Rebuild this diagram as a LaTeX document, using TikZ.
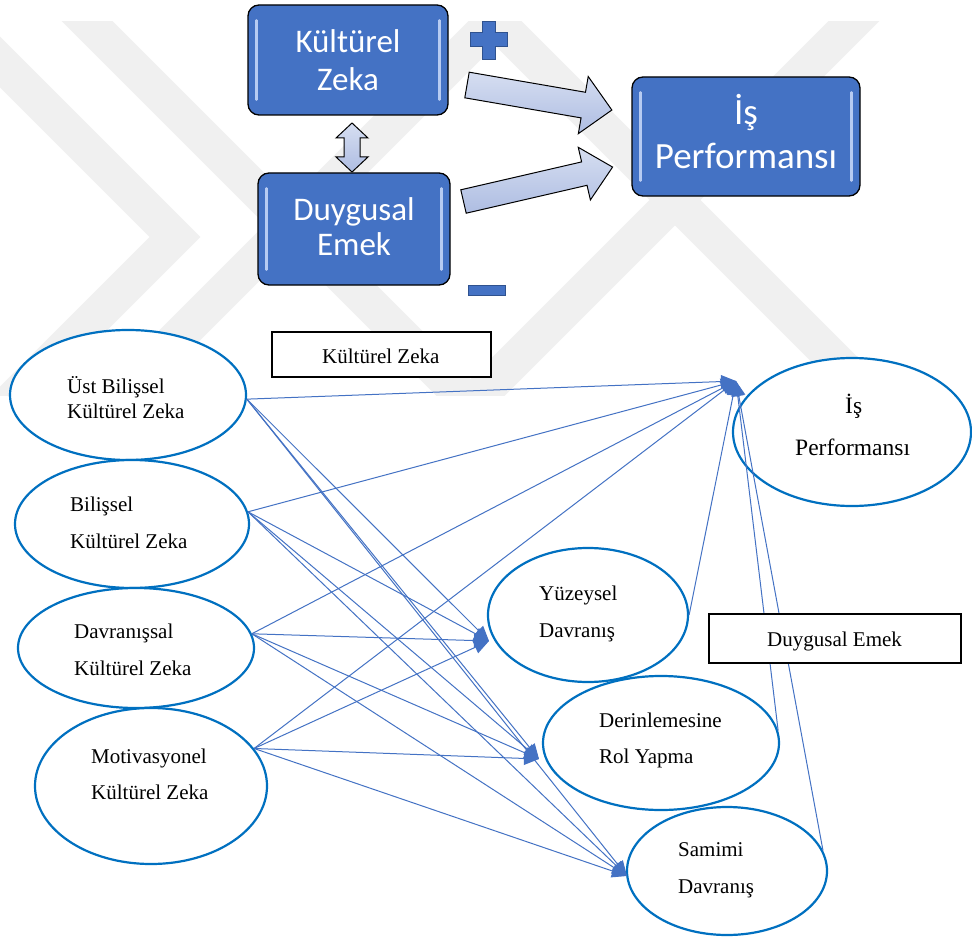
\documentclass[tikz,border=0pt]{standalone}
\usepackage{fontspec}
\setmainfont{Liberation Serif}
\newfontfamily\calibri{Carlito}
\usetikzlibrary{shapes.geometric,arrows.meta,calc}

\definecolor{officeblue}{HTML}{4472C4}
\definecolor{plusedge}{HTML}{2F528F}
\definecolor{ellblue}{HTML}{0070C0}
\definecolor{connblue}{HTML}{4472C4}
\definecolor{hlblue}{HTML}{B7CBF2}
\definecolor{arrowtop}{HTML}{D6DEF1}
\definecolor{arrowbot}{HTML}{AEBDE2}
\definecolor{wmgray}{HTML}{F0F0F0}

\begin{document}
\begin{tikzpicture}[x=1pt,y=-1pt,
  wm/.style={draw=wmgray, line width=36pt, line join=miter},
  topbox/.style={draw=black, line width=1.3pt, fill=officeblue, rounded corners=11pt, inner sep=0pt},
  toptxt/.style={text=white, font=\calibri\fontsize{33}{33}\selectfont, inner sep=0pt, anchor=base},
  hl/.style={draw=hlblue, line width=2.4pt, line cap=round},
  blockarrow/.style={draw=black, line width=1pt, top color=arrowtop, bottom color=arrowbot, line join=miter},
  ell/.style={ellipse, draw=ellblue, line width=2.2pt, fill=white, inner sep=0pt},
  lbl/.style={font=\fontsize{21}{21}\selectfont, inner sep=0pt, anchor=base west},
  conn/.style={draw=connblue, line width=1pt, -{Triangle[length=15pt,width=13pt]}},
  framebox/.style={draw=black, line width=1.6pt, fill=white, inner sep=0pt}]

\useasboundingbox (0,0) rectangle (972,939);
\fill[white] (0,0) rectangle (972,939);

% faint background emblem
\begin{scope}
  \clip (0,22) rectangle (972,395);
  \draw[wm] (38,-28) -- (520,454);
  \draw[wm] (543,-28) -- (61,454);
  \draw[wm] (447,-28) -- (929,454);
  \draw[wm] (903,-28) -- (421,454);
  \draw[wm] (-50,12) -- (175,237) -- (-50,462);
\end{scope}

% ---------- upper model ----------
\node[topbox, minimum width=200pt, minimum height=110pt] (kz) at (348,60) {};
\node[topbox, minimum width=192pt, minimum height=112pt] (de) at (354,229) {};
\node[topbox, minimum width=228pt, minimum height=119pt] (ip) at (746,136.5) {};

\foreach \b in {kz,de,ip}{
  \draw[hl] ($(\b.north west)+(9,16)$) -- ($(\b.south west)+(9,-16)$);
  \draw[hl] ($(\b.north east)+(-9,16)$) -- ($(\b.south east)+(-9,-16)$);
}

\node[toptxt] (kzA) at (348,53) {Kültürel};
\node[toptxt] (kzB) at (348,91) {Zeka};
\node[toptxt] (deA) at (354,220) {Duygusal};
\node[toptxt] (deB) at (354,255) {Emek};
\node[toptxt, font=\calibri\fontsize{37}{37}\selectfont] (ipA) at (746,125) {İş};
\node[toptxt, font=\calibri\fontsize{37}{37}\selectfont] (ipB) at (746,168) {Performansı};

% plus and minus signs
\draw[fill=officeblue, draw=plusedge, line width=1pt]
  (482,22) -- (495,22) -- (495,33) -- (507,33) -- (507,47) -- (495,47) -- (495,60)
  -- (482,60) -- (482,47) -- (470,47) -- (470,33) -- (482,33) -- cycle;
\draw[fill=officeblue, draw=plusedge, line width=1pt] (468,285) rectangle (505,295);

% block arrows
\begin{scope}[shift={(467,85)}, rotate=-9.8]
  \draw[blockarrow] (0,-13) -- (118,-13) -- (118,-29) -- (147,0) -- (118,29) -- (118,13) -- (0,13) -- cycle;
\end{scope}
\begin{scope}[shift={(463.5,201.5)}, rotate=13]
  \draw[blockarrow] (0,-12) -- (124,-12) -- (124,-27) -- (153,0) -- (124,27) -- (124,12) -- (0,12) -- cycle;
\end{scope}
\draw[blockarrow] (352,123) -- (368,138) -- (360,138) -- (360,157) -- (368,157) -- (352,172)
  -- (336,157) -- (344,157) -- (344,138) -- (336,138) -- cycle;

% ---------- lower model ----------
\node[ell, minimum width=236pt, minimum height=130pt] (e1) at (128,395) {};
\node[ell, minimum width=234pt, minimum height=128pt] (e2) at (132,524) {};
\node[ell, minimum width=236pt, minimum height=120pt] (e3) at (136,648) {};
\node[ell, minimum width=232pt, minimum height=156pt] (e4) at (151,786) {};
\node[ell, minimum width=238pt, minimum height=148pt] (e5) at (852,432) {};
\node[ell, minimum width=200pt, minimum height=134pt] (e6) at (588,615) {};
\node[ell, minimum width=236pt, minimum height=134pt] (e7) at (661,743) {};
\node[ell, minimum width=200pt, minimum height=128pt] (e8) at (727,871) {};

\node[lbl] (t1a) at (67,393) {Üst Bilişsel};
\node[lbl] (t1b) at (67,418) {Kültürel Zeka};
\node[lbl] (t2a) at (70,511) {Bilişsel};
\node[lbl] (t2b) at (70,548) {Kültürel Zeka};
\node[lbl] (t3a) at (74,638) {Davranışsal};
\node[lbl] (t3b) at (74,675) {Kültürel Zeka};
\node[lbl] (t4a) at (91,763) {Motivasyonel};
\node[lbl] (t4b) at (91,799) {Kültürel Zeka};
\node[lbl, font=\fontsize{23.5}{23.5}\selectfont] (t5a) at (845,413) {İş};
\node[lbl, font=\fontsize{23.5}{23.5}\selectfont] (t5b) at (795,455) {Performansı};
\node[lbl] (t6a) at (539,600) {Yüzeysel};
\node[lbl] (t6b) at (539,637) {Davranış};
\node[lbl] (t7a) at (599,727) {Derinlemesine};
\node[lbl] (t7b) at (599,763) {Rol Yapma};
\node[lbl] (t8a) at (678,856) {Samimi};
\node[lbl] (t8b) at (678,893) {Davranış};

% arrow tips on the dependent constructs
\coordinate (tIP) at (736,381);
\coordinate (tY) at (489,641);
\coordinate (tD) at (539,759);
\coordinate (tS) at (627,876);

\foreach \s/\a in {e1/-2, e2/6, e3/7, e4/20}{
  \draw[conn] (\s.\a) -- (tIP);
  \draw[conn] (\s.\a) -- (tY);
  \draw[conn] (\s.\a) -- (tD);
  \draw[conn] (\s.\a) -- (tS);
}
\draw[conn] (e6.east) -- (tIP);
\draw[conn] (e7.6) -- (tIP);
\draw[conn] (e8.12) -- (tIP);

% group labels
\node[framebox, minimum width=219pt, minimum height=45pt] (gKZ) at (381.5,354.5) {};
\node[lbl] (gKZt) at (322,363) {Kültürel Zeka};
\node[framebox, minimum width=252pt, minimum height=49pt] (gDE) at (835,638.5) {};
\node[lbl] (gDEt) at (767,646) {Duygusal Emek};

\end{tikzpicture}
\end{document}
